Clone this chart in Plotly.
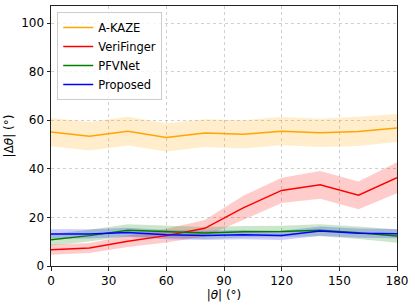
import plotly.graph_objects as go

angles = [0, 20, 40, 60, 80, 100, 120, 140, 160, 180]

akaze_mean = [55.1, 53.4, 55.5, 52.9, 54.7, 54.2, 55.5, 54.8, 55.4, 56.8]
akaze_std = [5.8, 5.9, 5.9, 5.8, 5.7, 5.8, 5.8, 5.8, 6.0, 5.8]

veri_mean = [6.7, 7.4, 10.2, 12.5, 15.5, 23.9, 31.1, 33.4, 29.1, 36.3]
veri_std = [2.1, 2.1, 2.4, 2.8, 3.4, 5.0, 5.2, 5.7, 5.7, 6.4]

pfv_mean = [10.8, 12.5, 14.7, 14.1, 13.6, 14.1, 14.2, 14.7, 13.7, 12.3]
pfv_std = [2.4, 2.4, 2.5, 2.5, 2.5, 2.4, 2.4, 2.5, 2.6, 2.7]

prop_mean = [13.2, 13.2, 13.8, 12.9, 12.6, 12.9, 12.6, 14.4, 13.5, 13.3]
prop_std = [1.9, 1.9, 1.9, 1.9, 1.9, 1.9, 1.9, 1.9, 1.9, 1.9]

series = [
    ("A-KAZE", akaze_mean, akaze_std, "#FFA500", "rgba(255,165,0,0.2)"),
    ("VeriFinger", veri_mean, veri_std, "#FF0000", "rgba(255,0,0,0.2)"),
    ("PFVNet", pfv_mean, pfv_std, "#008000", "rgba(0,128,0,0.2)"),
    ("Proposed", prop_mean, prop_std, "#0000FF", "rgba(0,0,255,0.2)"),
]

fig = go.Figure()
for name, m, s, col, fill in series:
    upper = [a + b for a, b in zip(m, s)]
    lower = [a - b for a, b in zip(m, s)]
    fig.add_trace(go.Scatter(x=angles + angles[::-1], y=upper + lower[::-1],
                             fill="toself", fillcolor=fill, line=dict(width=0),
                             mode="lines", showlegend=False, hoverinfo="skip"))
for name, m, s, col, fill in series:
    fig.add_trace(go.Scatter(x=angles, y=m, mode="lines", name=name,
                             line=dict(color=col, width=1.5)))

axis_common = dict(
    showline=True, linecolor="#222", linewidth=1, mirror=True,
    ticks="outside", ticklen=3.5, tickwidth=0.8, tickcolor="#222",
    showgrid=True, gridcolor="rgba(176,176,176,0.6)", griddash="dot", gridwidth=0.8,
    zeroline=False, tickfont=dict(size=12, color="black"), automargin=False,
)

fig.update_layout(
    width=415, height=307,
    margin=dict(l=51, r=18, t=6, b=41),
    paper_bgcolor="white", plot_bgcolor="white",
    font=dict(family="DejaVu Sans", color="black"),
    xaxis=dict(range=[0, 180], tickvals=[0, 30, 60, 90, 120, 150, 180],
               title=dict(text="|<i>θ</i>| (°)", font=dict(size=12), standoff=2),
               **axis_common),
    yaxis=dict(range=[0, 107], tickvals=[0, 20, 40, 60, 80, 100],
               title=dict(text="|Δ<i>θ</i>| (°)", font=dict(size=12), standoff=4),
               **axis_common),
    legend=dict(x=0.018, y=0.977, xanchor="left", yanchor="top",
                bgcolor="rgba(255,255,255,0.8)", bordercolor="#ccc", borderwidth=1,
                font=dict(size=11.5), tracegroupgap=0, itemwidth=30),
)

fig.write_html("out.html", config={"displayModeBar": False},
               post_script="document.body.style.margin='0';")
